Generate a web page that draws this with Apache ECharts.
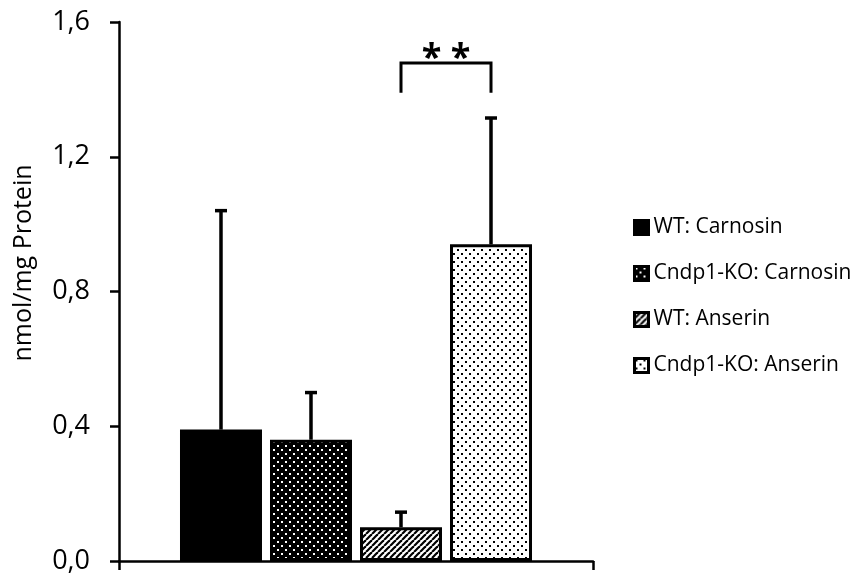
<!DOCTYPE html>
<html>
<head>
<meta charset="utf-8">
<script src="https://cdn.jsdelivr.net/npm/echarts@6/dist/echarts.min.js"></script>
<style>
html,body{margin:0;padding:0;background:#fff;}
#chart{width:852px;height:579px;}
</style>
</head>
<body>
<div id="chart"></div>
<script>
// ---- data ----
const seriesNames = ['WT: Carnosin', 'Cndp1-KO: Carnosin', 'WT: Anserin', 'Cndp1-KO: Anserin'];
const means = [0.39, 0.36, 0.10, 0.94];
const errors = [0.65, 0.14, 0.045, 0.375];
const yTicks = [0, 0.4, 0.8, 1.2, 1.6];
const sigPair = [2, 3];
const sigLevels = [1.39, 1.478];
const sigLabel = '* *';

// ---- layout constants ----
const BAR_W = 82;
const GAP_RATIO = 0.0976;
const FONT = '"Open Sans", sans-serif';

function makePattern(kind) {
  const c = document.createElement('canvas');
  const s = kind === 'stripe' ? 6 : 8;
  c.width = s; c.height = s;
  const g = c.getContext('2d');
  if (kind === 'darkdots') {
    g.fillStyle = '#000'; g.fillRect(0, 0, s, s);
    g.fillStyle = '#fff'; g.fillRect(1, 1, 2, 2); g.fillRect(5, 5, 2, 2);
  } else if (kind === 'lightdots') {
    g.fillStyle = '#fff'; g.fillRect(0, 0, s, s);
    g.fillStyle = '#000'; g.fillRect(1, 1, 2, 2); g.fillRect(5, 5, 2, 2);
  } else if (kind === 'stripe') {
    g.fillStyle = '#fff'; g.fillRect(0, 0, s, s);
    g.strokeStyle = '#000'; g.lineWidth = 2.2;
    for (let o = -s; o <= s; o += s) {
      g.beginPath(); g.moveTo(o, s); g.lineTo(o + s, 0); g.stroke();
    }
  }
  return { image: c, repeat: 'repeat' };
}
const fills = ['#000', makePattern('darkdots'), makePattern('stripe'), makePattern('lightdots')];

function barOffset(i) {
  return (i - (seriesNames.length - 1) / 2) * BAR_W * (1 + GAP_RATIO);
}

const chart = echarts.init(document.getElementById('chart'), null, { renderer: 'canvas' });

const barSeries = seriesNames.map((name, i) => ({
  name: name,
  type: 'bar',
  barWidth: BAR_W,
  barGap: (GAP_RATIO * 100) + '%',
  data: [means[i]],
  itemStyle: { color: fills[i], borderColor: '#000', borderWidth: 3 },
  emphasis: { disabled: true },
  z: 2
}));

const errData = means.map((m, i) => [0, m, errors[i], i]);

const option = {
  animation: false,
  backgroundColor: '#fff',
  grid: { left: 119, right: 259, top: 22, bottom: 18, containLabel: false },
  legend: {
    data: seriesNames,
    orient: 'vertical',
    left: 633,
    top: 217,
    itemWidth: 14,
    itemHeight: 14,
    itemGap: 25,
    padding: 0,
    icon: 'rect',
    textStyle: { fontFamily: FONT, fontSize: 21, color: '#000' },
    itemStyle: { borderColor: '#000', borderWidth: 3 }
  },
  xAxis: {
    type: 'category',
    data: [''],
    boundaryGap: true,
    axisLine: { lineStyle: { color: '#000', width: 2.5 } },
    axisTick: { show: true, length: 9, lineStyle: { color: '#000', width: 2.5 } },
    axisLabel: { show: false },
    splitLine: { show: false }
  },
  yAxis: {
    type: 'value',
    min: 0,
    max: 1.6,
    interval: 0.4,
    axisLine: { show: true, lineStyle: { color: '#000', width: 2.5 } },
    axisTick: { show: true, length: 9, inside: false, lineStyle: { color: '#000', width: 2.5 } },
    axisLabel: {
      fontFamily: FONT, fontSize: 27, color: '#000', margin: 29,
      formatter: v => yTicks.indexOf(v) >= 0 ? v.toFixed(1).replace('.', ',') : ''
    },
    splitLine: { show: false }
  },
  graphic: [{
    type: 'text',
    x: 24, y: 263,
    rotation: Math.PI / 2,
    style: { text: 'nmol/mg Protein', fontFamily: FONT, fontSize: 25, fill: '#000', align: 'center', verticalAlign: 'middle' }
  }],
  series: barSeries.concat([
    {
      type: 'custom',
      silent: true,
      z: 3,
      data: errData,
      renderItem: function (params, api) {
        const i = api.value(3);
        const base = api.coord([0, api.value(1)]);
        const top = api.coord([0, api.value(1) + api.value(2)]);
        const x = base[0] + barOffset(i);
        return {
          type: 'group',
          children: [
            { type: 'line', shape: { x1: x, y1: base[1], x2: x, y2: top[1] }, style: { stroke: '#000', lineWidth: 3.5 } },
            { type: 'line', shape: { x1: x - 6, y1: top[1], x2: x + 6, y2: top[1] }, style: { stroke: '#000', lineWidth: 3.5 } }
          ]
        };
      }
    },
    {
      type: 'custom',
      silent: true,
      z: 3,
      data: [[0, sigLevels[0], sigLevels[1]]],
      renderItem: function (params, api) {
        const low = api.coord([0, api.value(1)]);
        const high = api.coord([0, api.value(2)]);
        const x1 = low[0] + barOffset(sigPair[0]);
        const x2 = low[0] + barOffset(sigPair[1]);
        return {
          type: 'group',
          children: [
            { type: 'polyline', shape: { points: [[x1, low[1]], [x1, high[1]], [x2, high[1]], [x2, low[1]]] }, style: { stroke: '#000', lineWidth: 3, fill: null } },
            { type: 'text', x: (x1 + x2) / 2, y: high[1] - 4, style: { text: sigLabel, fontFamily: FONT, fontSize: 36, fontWeight: 'bold', fill: '#000', align: 'center', verticalAlign: 'middle' } }
          ]
        };
      }
    }
  ])
};
chart.setOption(option);
</script>
</body>
</html>
